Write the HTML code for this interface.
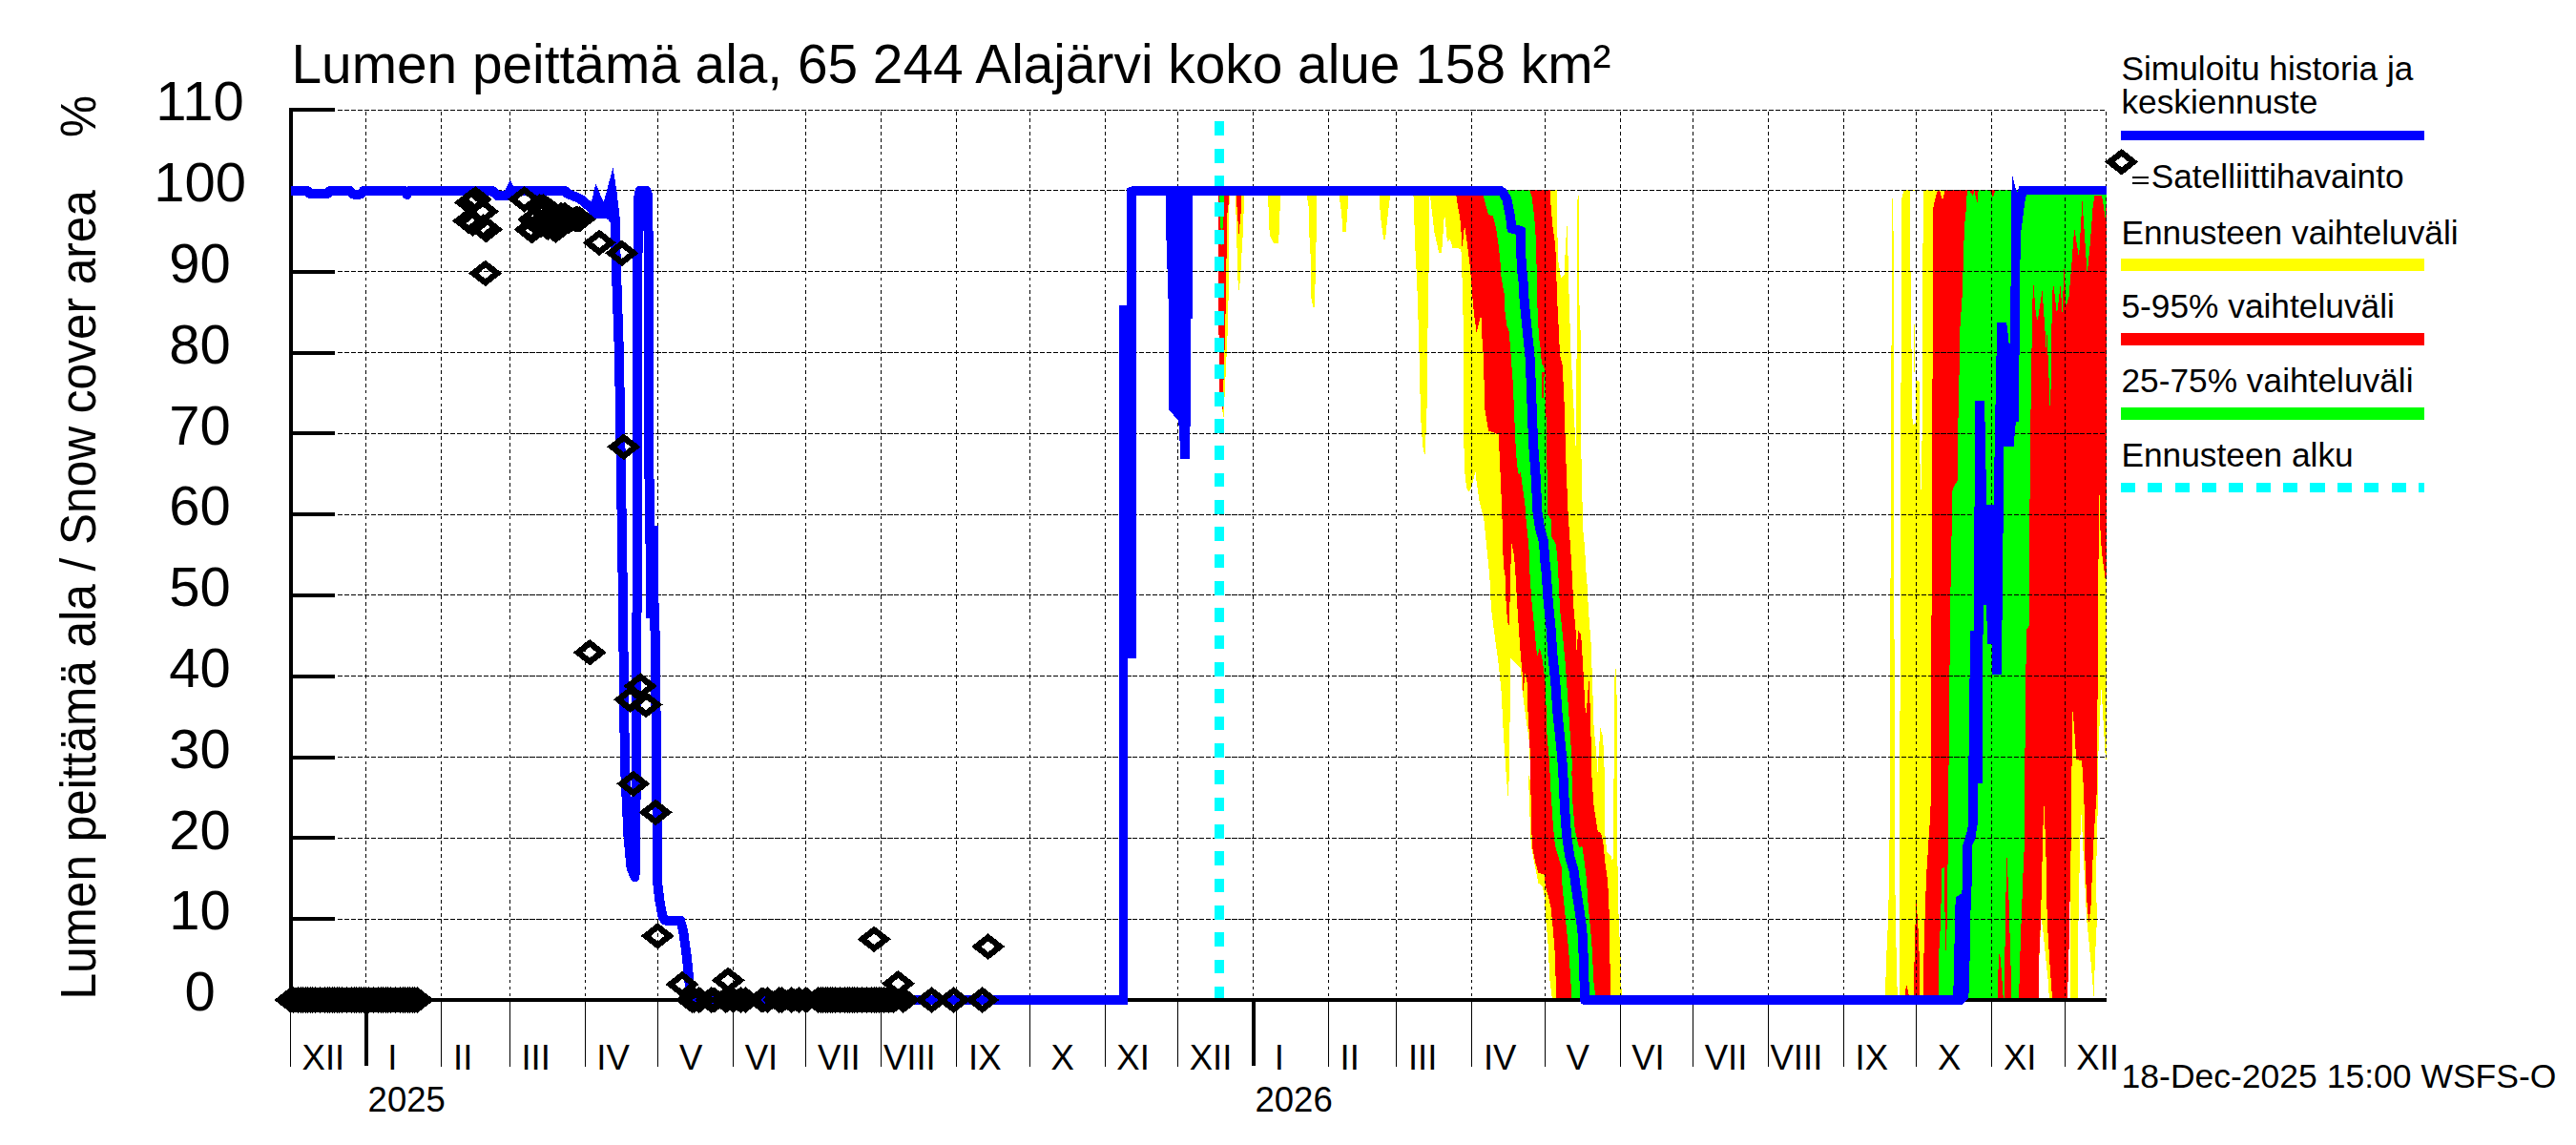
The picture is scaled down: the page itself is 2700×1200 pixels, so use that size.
<!DOCTYPE html>
<html><head><meta charset="utf-8"><title>Lumen peittämä ala</title>
<style>
html,body{margin:0;padding:0;background:#fff;}
body{width:2700px;height:1200px;overflow:hidden;}
svg{display:block;font-family:"Liberation Sans",sans-serif;}
</style></head><body>
<svg width="2700" height="1200" viewBox="0 0 2700 1200">
<rect width="2700" height="1200" fill="#ffffff"/>
<g shape-rendering="crispEdges">
<polygon points="1286.4,205.3 1289.1,205.3 1287.8,224.3 1287.8,297.4 1287.1,340.0 1282.5,437.0 1281.0,430.0 1285.5,271.7" fill="#ffff00" />
<polygon points="1276.9,205.3 1288.4,205.3 1287.8,212.1 1286.4,224.3 1285.5,271.7 1285.0,283.8 1284.4,340.0 1281.5,429.0 1278.0,420.0 1276.9,266.2" fill="#ff0000" />
<polygon points="1278.3,205.3 1283.0,205.3 1282.3,225.6 1280.3,260.8 1279.0,225.6" fill="#00ff00" />
<polygon points="1294.9,205.3 1304.0,205.3 1303.1,239.2 1301.3,268.9 1299.9,293.3 1298.6,304.8 1297.2,290.6 1296.3,250.0" fill="#ffff00" />
<polygon points="1295.9,205.3 1301.3,205.3 1300.6,222.9 1298.6,245.9 1296.8,222.9" fill="#ff0000" />
<polygon points="1329.0,205.3 1341.9,205.3 1341.2,235.1 1339.9,255.4 1335.1,255.4 1331.4,248.0 1330.4,240.5 1329.7,221.6" fill="#ffff00" />
<polygon points="1369.9,205.3 1380.0,205.3 1379.8,239.2 1378.9,285.2 1377.8,322.4 1376.4,322.4 1374.0,310.9 1373.5,266.2 1372.4,247.3 1371.7,217.5" fill="#ffff00" />
<polygon points="1403.5,205.3 1413.0,205.3 1412.7,216.1 1411.6,232.4 1410.7,242.5 1407.3,242.5 1406.9,232.4 1405.5,218.8" fill="#ffff00" />
<polygon points="1445.8,205.3 1457.0,205.3 1455.6,217.5 1454.3,228.3 1452.0,250.7 1450.2,250.7 1448.9,241.9 1446.8,225.6" fill="#ffff00" />
<polygon points="1481.3,199.2 1498.6,199.2 1497.7,276.1 1496.7,333.8 1495.7,390.0 1495.7,422.7 1493.8,476.5 1491.9,472.6 1490.4,457.3 1489.0,434.2 1488.0,390.0 1487.1,353.0 1485.2,295.3 1483.2,256.9" fill="#ffff00" />
<polygon points="1498.6,199.2 1499.6,210.8 1503.4,243.4 1508.2,264.6 1511.1,265.5 1514.0,222.3 1516.9,253.0 1519.8,251.1 1522.6,259.8 1530.3,260.7 1531.9,264.6 1532.6,295.3 1533.6,333.8 1534.2,400.2 1534.2,457.3 1535.1,493.8 1537.1,511.1 1539.9,515.9 1543.8,505.3 1546.7,493.8 1547.6,505.3 1550.5,524.5 1555.3,543.8 1558.2,572.6 1561.1,601.4 1561.1,600.0 1563.0,638.4 1566.8,667.3 1570.7,696.1 1573.6,724.9 1575.5,763.4 1577.4,792.2 1579.3,820.1 1579.3,810.0 1579.7,831.8 1580.8,835.1 1581.9,810.0 1582.2,776.8 1583.2,715.3 1583.2,690.3 1584.1,690.3 1593.8,699.9 1595.7,724.9 1599.5,753.8 1602.4,773.0 1603.4,792.2 1604.3,820.1 1601.6,810.0 1602.7,831.8 1603.8,864.6 1604.8,886.4 1608.1,903.9 1610.3,914.8 1612.5,925.7 1616.9,929.0 1619.0,941.0 1620.1,962.8 1622.3,984.7 1623.4,1006.5 1624.5,1028.3 1626.7,1045.8 1699.8,1045.8 1698.7,1006.5 1696.6,962.8 1695.5,908.3 1695.0,810.0 1694.7,734.5 1693.7,699.0 1691.8,715.3 1691.8,820.1 1691.1,810.0 1691.1,895.2 1690.0,903.9 1688.9,897.3 1684.5,893.0 1682.4,875.5 1681.9,849.3 1681.9,810.0 1681.8,811.4 1680.2,773.0 1677.4,762.4 1674.5,809.5 1672.6,782.6 1670.6,763.4 1669.7,734.5 1668.7,705.7 1667.8,676.9 1664.9,638.4 1662.9,600.0 1662.6,601.4 1661.0,572.6 1659.1,553.4 1658.1,505.3 1657.2,466.9 1657.2,390.0 1656.8,353.0 1655.3,314.5 1654.9,214.6 1654.3,199.2 1653.0,214.6 1653.0,314.5 1652.4,390.0 1652.4,441.9 1651.4,470.7 1651.4,495.7 1650.5,447.7 1649.5,428.4 1647.6,390.0 1646.6,372.2 1644.7,314.5 1643.7,276.1 1642.8,233.8 1640.8,256.9 1639.9,287.6 1636.0,291.5 1633.2,272.3 1632.2,237.7 1632.2,199.2" fill="#ffff00" />
<polygon points="1525.5,199.2 1527.4,212.7 1530.3,228.0 1531.9,247.3 1532.6,259.8 1535.1,235.7 1538.0,256.9 1540.9,279.9 1542.8,304.9 1544.7,326.1 1547.6,349.1 1552.4,329.9 1553.4,353.0 1554.7,372.2 1555.3,390.0 1556.3,428.4 1560.1,451.5 1570.7,455.3 1571.7,476.5 1573.0,505.3 1574.5,543.8 1575.5,582.2 1576.8,601.4 1577.4,600.0 1578.8,638.4 1581.3,659.6 1582.6,628.8 1583.2,600.0 1583.8,582.2 1584.5,569.7 1587.0,582.2 1589.0,610.1 1589.9,628.8 1591.8,657.7 1593.8,686.5 1595.7,705.7 1596.6,725.9 1598.6,704.7 1600.5,715.3 1601.4,744.1 1603.0,773.0 1604.3,801.8 1604.2,810.0 1604.8,853.7 1605.9,886.4 1609.2,903.9 1612.5,914.8 1619.0,917.0 1620.1,930.1 1623.4,941.0 1625.6,951.9 1627.8,973.8 1629.5,995.6 1630.4,1017.4 1631.0,1045.8 1687.8,1045.8 1687.4,995.6 1686.7,962.8 1686.3,941.0 1684.5,919.2 1682.4,903.9 1680.2,882.1 1678.0,873.3 1674.7,871.1 1670.3,842.8 1668.2,810.0 1667.8,782.6 1666.8,744.1 1665.3,709.6 1663.9,732.6 1662.0,751.8 1660.1,715.3 1659.1,696.1 1657.2,665.3 1654.3,660.5 1652.4,682.6 1651.4,657.7 1649.5,638.4 1647.6,600.0 1646.6,582.2 1645.3,563.0 1643.7,539.9 1642.2,505.3 1640.8,466.9 1639.9,428.4 1638.0,390.0 1638.0,383.7 1635.1,372.2 1634.1,353.0 1633.2,333.8 1632.2,314.5 1631.2,285.7 1630.3,256.9 1627.4,237.7 1625.5,214.6 1624.5,199.2" fill="#ff0000" />
<polygon points="1553.4,199.2 1557.2,214.6 1560.1,225.2 1564.9,226.1 1567.8,237.7 1570.7,256.9 1572.6,276.1 1573.6,291.5 1576.5,306.8 1577.4,326.1 1579.3,341.4 1581.3,345.3 1583.2,364.5 1584.1,381.8 1585.1,390.0 1587.0,428.4 1588.0,457.3 1589.9,486.1 1591.8,497.6 1593.8,494.7 1595.7,509.2 1598.6,530.3 1599.5,543.8 1601.4,563.0 1603.0,582.2 1603.4,600.0 1605.3,628.8 1608.2,657.7 1611.1,688.4 1613.9,678.8 1616.8,692.3 1619.7,715.3 1620.7,744.1 1621.6,773.0 1623.5,792.2 1624.5,810.0 1625.6,831.8 1627.8,864.6 1630.0,886.4 1633.2,897.3 1636.5,908.3 1637.6,930.1 1639.8,951.9 1642.0,973.8 1644.1,995.6 1645.7,1017.4 1647.4,1045.8 1672.5,1045.8 1670.3,1028.3 1668.8,995.6 1667.1,973.8 1664.9,951.9 1662.7,919.2 1660.5,901.7 1658.3,886.4 1655.1,888.6 1650.7,869.0 1648.5,842.8 1647.4,810.0 1648.0,801.8 1646.6,782.6 1644.7,753.8 1642.8,724.9 1640.8,696.1 1638.0,667.3 1635.1,638.4 1633.2,600.0 1632.2,582.2 1630.3,568.7 1626.4,563.0 1625.5,543.8 1622.2,539.9 1621.6,495.7 1620.7,447.7 1619.7,390.0 1617.8,383.7 1615.9,381.8 1614.9,366.4 1613.0,353.0 1612.0,333.8 1611.1,314.5 1610.7,285.7 1610.1,256.9 1609.1,237.7 1607.2,218.4 1605.3,205.0 1603.4,199.2" fill="#00ff00" />
<polygon points="1615.9,390.0 1618.7,390.0 1617.8,416.9 1616.4,416.9" fill="#ff0000" />
<polygon points="1983.1,207.9 1982.7,333.7 1982.1,428.4 1981.7,600.0 1980.8,630.7 1981.2,810.0 1980.1,923.5 1978.6,973.8 1977.0,1006.5 1975.9,1045.8 1988.8,1045.8 1987.3,984.7 1986.2,919.2 1985.8,810.0 1985.9,671.1 1985.0,669.2 1985.0,390.0 1984.4,207.9" fill="#ffff00" />
<polygon points="1995.5,199.2 1993.0,208.8 1992.7,390.0 1992.3,413.1 1991.7,600.0 1991.7,744.1 1991.1,746.0 1991.0,810.0 1991.0,1045.8 2025.5,1045.8 2025.5,810.0 2040.7,389.8 2040.7,199.2" fill="#ffff00" />
<polygon points="2001.9,200.2 2015.7,199.2 2015.1,390.0 2014.8,447.6 2013.4,518.7 2011.5,447.6 2011.5,399.6 2008.0,397.7 2008.0,443.8 2004.6,444.8 2003.8,390.0 2002.7,299.1 2001.9,237.6" fill="#ffffff" />
<polygon points="2005.5,339.5 2007.1,339.5 2007.1,389.8 2005.5,389.8" fill="#ffff00" />
<polygon points="2199.2,514.9 2207.5,514.9 2207.5,1046.0 2169.6,1045.8 2169.6,810.0 2170.4,742.2" fill="#ffff00" />
<polygon points="2031.1,199.2 2033.0,199.2 2035.9,209.8 2038.8,199.2 2207.5,200.0 2207.5,605.8 2206.5,605.8 2203.6,584.1 2201.7,562.9 2200.6,518.7 2200.2,518.7 2199.2,617.3 2198.8,715.3 2198.3,746.0 2198.0,810.0 2197.6,831.8 2194.7,875.5 2193.2,908.3 2191.4,951.9 2189.3,967.2 2187.1,941.0 2185.3,897.3 2184.5,842.8 2183.1,810.0 2181.9,796.9 2176.2,796.0 2174.2,763.3 2172.5,746.0 2171.4,809.4 2170.7,810.0 2170.7,882.1 2169.6,941.0 2168.5,995.6 2167.0,1045.8 2015.7,1045.8 2016.3,1006.5 2017.2,973.8 2019.0,919.2 2021.1,886.4 2023.3,853.7 2024.4,810.0 2024.0,646.1 2024.9,644.2 2025.3,610.0 2025.3,397.7 2026.3,395.8 2026.3,218.4 2028.2,208.8" fill="#ff0000" />
<polygon points="2181.6,851.5 2182.7,875.5 2184.9,919.2 2187.1,962.8 2191.4,1006.5 2194.7,1045.8 2177.9,1045.8 2178.3,975.9 2179.4,919.2 2180.5,875.5" fill="#ffffff" />
<polygon points="2199.1,810.0 2207.5,810.0 2207.5,1046.0 2194.7,1045.8 2195.8,1006.5 2198.0,962.8 2196.9,923.5 2198.0,875.5 2199.1,831.8" fill="#ffffff" />
<polygon points="2202.5,723.0 2204.0,746.0 2206.9,796.0 2207.5,796.0 2207.5,810.0 2199.1,810.0 2199.2,796.0 2201.1,746.0" fill="#ffffff" />
<polygon points="2142.3,839.5 2143.8,875.5 2145.2,919.2 2145.6,962.8 2148.2,1006.5 2151.0,1045.8 2136.9,1045.8 2136.9,1013.1 2139.0,962.8 2140.1,919.2 2141.2,875.5" fill="#ffff00" />
<polygon points="2139.5,962.8 2141.2,973.8 2144.5,1006.5 2146.7,1028.3 2147.8,1045.8 2136.9,1045.8 2136.9,1013.1" fill="#ffffff" />
<polygon points="2008.5,943.2 2011.3,984.7 2012.4,1045.8 2005.9,1045.8 2006.9,984.7" fill="#ff0000" />
<polygon points="1998.2,1031.6 2001.5,1045.8 1996.0,1045.8" fill="#ff0000" />
<polygon points="2061.8,199.2 2060.9,218.4 2059.0,237.6 2058.0,266.5 2057.0,304.9 2055.1,333.7 2053.8,352.9 2053.8,390.0 2053.2,395.8 2052.2,457.2 2051.8,503.4 2048.4,509.1 2046.1,514.9 2045.5,562.9 2044.9,600.0 2044.9,615.4 2044.0,615.4 2044.0,697.0 2043.0,697.0 2043.0,801.7 2042.0,801.7 2041.9,810.0 2041.9,906.1 2035.3,910.4 2034.2,962.8 2032.1,1002.1 2031.6,1045.8 2116.1,1045.8 2117.2,1006.5 2118.3,973.8 2119.4,945.4 2120.5,914.8 2122.0,882.1 2122.0,810.0 2122.4,796.0 2123.3,705.7 2124.3,659.6 2126.8,655.7 2126.8,600.0 2127.2,559.1 2128.1,457.2 2129.1,390.0 2130.0,333.7 2131.0,292.4 2133.9,329.9 2135.8,335.6 2140.6,303.9 2143.5,347.2 2144.5,364.5 2145.4,348.1 2147.3,389.8 2148.7,430.3 2150.2,390.0 2150.2,352.9 2151.2,308.7 2152.1,296.2 2156.0,329.9 2159.8,297.2 2161.4,329.9 2163.7,278.0 2165.6,321.2 2168.5,310.7 2171.4,276.1 2174.2,238.6 2179.0,270.3 2182.5,210.7 2187.7,287.6 2190.6,256.9 2193.5,218.4 2195.4,205.0 2203.1,205.0 2206.9,230.0 2207.5,218.4 2207.5,200.0" fill="#00ff00" />
<polygon points="2063.8,199.2 2067.6,205.0 2069.5,200.2 2072.4,212.7 2073.7,199.2" fill="#ff0000" />
<polygon points="2085.9,199.2 2088.7,206.9 2091.6,199.2" fill="#ff0000" />
<polygon points="2037.9,906.1 2041.2,906.1 2040.3,995.6 2039.0,995.6" fill="#ff0000" />
<polygon points="2103.4,896.2 2105.2,932.3 2106.7,984.7 2108.5,1045.8 2100.8,1045.8 2101.9,962.8" fill="#ff0000" />
<polygon points="2095.8,995.6 2098.0,1019.6 2099.7,1045.8 2093.6,1045.8 2094.3,1019.6" fill="#ff0000" />
</g>
<g stroke="#000" stroke-width="1" fill="none" shape-rendering="crispEdges">
<line x1="354" y1="963.5" x2="2207.5" y2="963.5" stroke-dasharray="5.2 1.744"/>
<line x1="354" y1="878.5" x2="2207.5" y2="878.5" stroke-dasharray="5.2 1.744"/>
<line x1="354" y1="793.5" x2="2207.5" y2="793.5" stroke-dasharray="5.2 1.744"/>
<line x1="354" y1="708.5" x2="2207.5" y2="708.5" stroke-dasharray="5.2 1.744"/>
<line x1="354" y1="623.5" x2="2207.5" y2="623.5" stroke-dasharray="5.2 1.744"/>
<line x1="354" y1="539.5" x2="2207.5" y2="539.5" stroke-dasharray="5.2 1.744"/>
<line x1="354" y1="454.5" x2="2207.5" y2="454.5" stroke-dasharray="5.2 1.744"/>
<line x1="354" y1="369.5" x2="2207.5" y2="369.5" stroke-dasharray="5.2 1.744"/>
<line x1="354" y1="284.5" x2="2207.5" y2="284.5" stroke-dasharray="5.2 1.744"/>
<line x1="354" y1="199.5" x2="2207.5" y2="199.5" stroke-dasharray="5.2 1.744"/>
<line x1="354" y1="115.5" x2="2207.5" y2="115.5" stroke-dasharray="5.2 1.744"/>
<line x1="383.5" y1="117" x2="383.5" y2="1047.9" stroke-dasharray="3.8 3.144"/>
<line x1="462.5" y1="117" x2="462.5" y2="1047.9" stroke-dasharray="3.8 3.144"/>
<line x1="534.5" y1="117" x2="534.5" y2="1047.9" stroke-dasharray="3.8 3.144"/>
<line x1="613.5" y1="117" x2="613.5" y2="1047.9" stroke-dasharray="3.8 3.144"/>
<line x1="689.5" y1="117" x2="689.5" y2="1047.9" stroke-dasharray="3.8 3.144"/>
<line x1="768.5" y1="117" x2="768.5" y2="1047.9" stroke-dasharray="3.8 3.144"/>
<line x1="844.5" y1="117" x2="844.5" y2="1047.9" stroke-dasharray="3.8 3.144"/>
<line x1="923.5" y1="117" x2="923.5" y2="1047.9" stroke-dasharray="3.8 3.144"/>
<line x1="1002.5" y1="117" x2="1002.5" y2="1047.9" stroke-dasharray="3.8 3.144"/>
<line x1="1079.5" y1="117" x2="1079.5" y2="1047.9" stroke-dasharray="3.8 3.144"/>
<line x1="1158.5" y1="117" x2="1158.5" y2="1047.9" stroke-dasharray="3.8 3.144"/>
<line x1="1234.5" y1="117" x2="1234.5" y2="1047.9" stroke-dasharray="3.8 3.144"/>
<line x1="1313.5" y1="117" x2="1313.5" y2="1047.9" stroke-dasharray="3.8 3.144"/>
<line x1="1392.5" y1="117" x2="1392.5" y2="1047.9" stroke-dasharray="3.8 3.144"/>
<line x1="1463.5" y1="117" x2="1463.5" y2="1047.9" stroke-dasharray="3.8 3.144"/>
<line x1="1542.5" y1="117" x2="1542.5" y2="1047.9" stroke-dasharray="3.8 3.144"/>
<line x1="1619.5" y1="117" x2="1619.5" y2="1047.9" stroke-dasharray="3.8 3.144"/>
<line x1="1698.5" y1="117" x2="1698.5" y2="1047.9" stroke-dasharray="3.8 3.144"/>
<line x1="1774.5" y1="117" x2="1774.5" y2="1047.9" stroke-dasharray="3.8 3.144"/>
<line x1="1853.5" y1="117" x2="1853.5" y2="1047.9" stroke-dasharray="3.8 3.144"/>
<line x1="1932.5" y1="117" x2="1932.5" y2="1047.9" stroke-dasharray="3.8 3.144"/>
<line x1="2008.5" y1="117" x2="2008.5" y2="1047.9" stroke-dasharray="3.8 3.144"/>
<line x1="2087.5" y1="117" x2="2087.5" y2="1047.9" stroke-dasharray="3.8 3.144"/>
<line x1="2164.5" y1="117" x2="2164.5" y2="1047.9" stroke-dasharray="3.8 3.144"/>
<line x1="2207.5" y1="117" x2="2207.5" y2="1047.9" stroke-dasharray="3.8 3.144"/>
</g>
<line x1="1278.0" y1="127.3" x2="1278.0" y2="1047.9" stroke="#00ffff" stroke-width="10" stroke-dasharray="14.9 13.43" shape-rendering="crispEdges"/>
<g stroke="#000" fill="none" shape-rendering="crispEdges">
<line x1="305" y1="113.1" x2="305" y2="1049.9" stroke-width="4"/>
<line x1="303" y1="1048" x2="2207.5" y2="1048" stroke-width="4"/>
<line x1="303" y1="963" x2="350.5" y2="963" stroke-width="4"/>
<line x1="303" y1="878" x2="350.5" y2="878" stroke-width="4"/>
<line x1="303" y1="794" x2="350.5" y2="794" stroke-width="4"/>
<line x1="303" y1="709" x2="350.5" y2="709" stroke-width="4"/>
<line x1="303" y1="624" x2="350.5" y2="624" stroke-width="4"/>
<line x1="303" y1="539" x2="350.5" y2="539" stroke-width="4"/>
<line x1="303" y1="454" x2="350.5" y2="454" stroke-width="4"/>
<line x1="303" y1="370" x2="350.5" y2="370" stroke-width="4"/>
<line x1="303" y1="285" x2="350.5" y2="285" stroke-width="4"/>
<line x1="303" y1="200" x2="350.5" y2="200" stroke-width="4"/>
<line x1="303" y1="115" x2="350.5" y2="115" stroke-width="4"/>
<line x1="384.0" y1="1047.9" x2="384.0" y2="1117" stroke-width="4"/>
<line x1="462.5" y1="1047.9" x2="462.5" y2="1117.5" stroke-width="1"/>
<line x1="534.5" y1="1047.9" x2="534.5" y2="1117.5" stroke-width="1"/>
<line x1="613.5" y1="1047.9" x2="613.5" y2="1117.5" stroke-width="1"/>
<line x1="689.5" y1="1047.9" x2="689.5" y2="1117.5" stroke-width="1"/>
<line x1="768.5" y1="1047.9" x2="768.5" y2="1117.5" stroke-width="1"/>
<line x1="844.5" y1="1047.9" x2="844.5" y2="1117.5" stroke-width="1"/>
<line x1="923.5" y1="1047.9" x2="923.5" y2="1117.5" stroke-width="1"/>
<line x1="1002.5" y1="1047.9" x2="1002.5" y2="1117.5" stroke-width="1"/>
<line x1="1079.5" y1="1047.9" x2="1079.5" y2="1117.5" stroke-width="1"/>
<line x1="1158.5" y1="1047.9" x2="1158.5" y2="1117.5" stroke-width="1"/>
<line x1="1234.5" y1="1047.9" x2="1234.5" y2="1117.5" stroke-width="1"/>
<line x1="1314.0" y1="1047.9" x2="1314.0" y2="1117" stroke-width="4"/>
<line x1="1392.5" y1="1047.9" x2="1392.5" y2="1117.5" stroke-width="1"/>
<line x1="1463.5" y1="1047.9" x2="1463.5" y2="1117.5" stroke-width="1"/>
<line x1="1542.5" y1="1047.9" x2="1542.5" y2="1117.5" stroke-width="1"/>
<line x1="1619.5" y1="1047.9" x2="1619.5" y2="1117.5" stroke-width="1"/>
<line x1="1698.5" y1="1047.9" x2="1698.5" y2="1117.5" stroke-width="1"/>
<line x1="1774.5" y1="1047.9" x2="1774.5" y2="1117.5" stroke-width="1"/>
<line x1="1853.5" y1="1047.9" x2="1853.5" y2="1117.5" stroke-width="1"/>
<line x1="1932.5" y1="1047.9" x2="1932.5" y2="1117.5" stroke-width="1"/>
<line x1="2008.5" y1="1047.9" x2="2008.5" y2="1117.5" stroke-width="1"/>
<line x1="2087.5" y1="1047.9" x2="2087.5" y2="1117.5" stroke-width="1"/>
<line x1="2164.5" y1="1047.9" x2="2164.5" y2="1117.5" stroke-width="1"/>
<line x1="304.5" y1="1047.9" x2="304.5" y2="1117.5" stroke-width="1"/>
</g>
<g shape-rendering="crispEdges">
<polygon points="528.4,201.0 534.6,188.7 540.0,199.0" fill="#0000ff" />
<polygon points="615.0,212.0 619.6,213.5 624.3,192.2 632.2,211.0 633.0,211.0 642.4,175.7 646.3,199.3 648.7,219.7 650.0,232.0 640.0,232.0 630.0,225.0 618.0,220.0" fill="#0000ff" />
<polyline points="305.0,200.0 322.0,200.0 325.0,203.0 343.0,203.0 346.0,200.0 367.0,200.0 370.0,203.5 378.0,203.5 381.0,200.0 424.0,200.0 426.5,204.0 429.0,200.0 516.0,200.0 521.5,205.3 531.0,205.3 536.0,202.0 540.0,200.0 592.0,200.0 595.2,203.2 604.6,206.7 611.0,210.3 617.2,216.1 620.4,219.3 625.0,224.2 640.0,224.2 644.6,232.0 646.0,284.5 648.9,369.0 649.3,392.0 652.4,590.0 654.9,800.0 656.7,839.0 658.6,878.0 661.5,909.0 665.5,919.4 667.0,800.0 667.7,590.0 668.1,400.0 668.7,210.0 670.5,200.0 677.5,200.0 679.3,205.0 680.3,380.0 680.6,556.0 686.3,644.0 688.3,810.0 689.0,924.0 691.6,945.0 694.5,961.0 697.0,964.5 713.0,964.5 716.0,975.0 720.0,1004.0 722.5,1030.0 724.5,1048.0 1177.0,1048.0" fill="none" stroke="#0000ff" stroke-width="10" stroke-linejoin="round"/>
<polygon points="677.0,551.0 689.9,551.0 689.9,648.0 677.0,648.0" fill="#0000ff" />
<polygon points="1172.5,1053.0 1172.5,320.0 1181.3,320.0 1181.3,197.0 1187.6,195.0 1190.5,195.0 1190.5,690.0 1181.5,690.0 1181.5,1053.0" fill="#0000ff" />
<polygon points="1222.2,198.8 1222.2,242.0 1225.1,331.4 1225.1,429.4 1235.2,440.9 1236.6,463.9 1237.2,481.2 1246.7,481.2 1247.6,443.8 1247.6,334.3 1249.6,334.3 1249.6,198.8" fill="#0000ff" />
<polyline points="1186.0,200.0 1572.6,200.0 1575.5,202.0 1579.3,208.8 1583.2,228.0 1584.5,239.6 1594.1,241.9 1594.7,283.8 1596.1,287.6 1597.6,314.5 1599.5,333.8 1601.4,353.0 1603.4,372.2 1604.3,390.0 1605.7,428.4 1607.2,466.9 1610.1,505.3 1611.1,534.1 1613.9,553.4 1617.8,566.8 1619.7,591.8 1620.7,600.0 1622.6,628.8 1625.5,657.7 1627.4,686.5 1630.3,715.3 1632.2,744.1 1635.1,773.0 1637.0,792.2 1638.3,810.0 1639.8,842.8 1642.0,875.5 1645.2,897.3 1649.6,912.6 1651.8,930.1 1655.1,951.9 1658.3,973.8 1659.4,995.6 1660.5,1028.3 1661.0,1048.0 2057.2,1048.0" fill="none" stroke="#0000ff" stroke-width="10" stroke-linejoin="round"/>
<polygon points="2047.3,1052.8 2047.3,1042.5 2048.4,995.6 2049.1,954.1 2050.0,939.9 2056.1,936.6 2057.2,927.9 2057.2,886.4 2059.3,879.9 2062.2,869.0 2063.1,862.4 2063.1,810.0 2063.2,792.1 2064.1,792.1 2064.1,710.5 2065.3,710.5 2065.3,660.5 2069.1,660.5 2069.1,600.0 2069.1,531.2 2069.9,531.2 2069.9,419.8 2080.1,419.8 2080.1,441.9 2080.7,441.9 2080.7,491.8 2082.0,491.8 2082.0,529.3 2090.3,529.3 2090.3,479.3 2091.2,479.3 2091.2,423.6 2092.2,423.6 2092.2,390.0 2092.6,369.3 2093.0,337.9 2103.1,337.9 2104.5,349.1 2106.4,367.3 2107.6,295.3 2107.9,208.8 2109.5,184.8 2112.8,198.3 2114.7,201.1 2116.6,195.0 2207.5,195.0 2207.5,204.0 2124.3,204.0 2123.3,205.9 2121.4,218.4 2119.5,233.8 2117.9,245.3 2117.2,295.3 2116.6,369.3 2116.0,390.0 2116.0,441.9 2112.8,441.9 2112.8,445.7 2111.8,445.7 2111.8,457.2 2110.8,457.2 2110.8,467.8 2100.3,467.8 2100.3,559.1 2099.3,559.1 2098.9,600.0 2098.9,650.0 2098.0,650.0 2098.0,706.6 2087.8,706.6 2087.8,674.9 2083.0,674.9 2083.0,650.9 2082.0,650.9 2082.0,633.6 2079.1,633.6 2079.1,665.3 2078.2,665.3 2077.6,710.5 2077.9,810.0 2077.9,820.5 2073.1,820.5 2073.1,862.4 2071.8,869.0 2070.3,879.9 2067.0,886.4 2066.6,927.9 2065.9,936.6 2065.9,939.9 2065.5,954.1 2064.8,995.6 2063.7,1039.3 2062.6,1046.9 2057.2,1052.8" fill="#0000ff" />
</g>
<defs><path id="d" d="M-17.6,0L0,-13.8L17.6,0L0,13.8ZM-7.1,0L0,5.65L7.1,0L0,-5.65Z" fill="#000" fill-rule="evenodd"/></defs>
<g shape-rendering="crispEdges">
<use href="#d" x="305.0" y="1048.0"/>
<use href="#d" x="307.5" y="1048.0"/>
<use href="#d" x="310.1" y="1048.0"/>
<use href="#d" x="312.6" y="1048.0"/>
<use href="#d" x="315.2" y="1048.0"/>
<use href="#d" x="317.7" y="1048.0"/>
<use href="#d" x="320.3" y="1048.0"/>
<use href="#d" x="322.8" y="1048.0"/>
<use href="#d" x="325.4" y="1048.0"/>
<use href="#d" x="327.9" y="1048.0"/>
<use href="#d" x="330.5" y="1048.0"/>
<use href="#d" x="333.0" y="1048.0"/>
<use href="#d" x="335.6" y="1048.0"/>
<use href="#d" x="338.1" y="1048.0"/>
<use href="#d" x="340.7" y="1048.0"/>
<use href="#d" x="343.2" y="1048.0"/>
<use href="#d" x="345.7" y="1048.0"/>
<use href="#d" x="348.3" y="1048.0"/>
<use href="#d" x="350.8" y="1048.0"/>
<use href="#d" x="353.4" y="1048.0"/>
<use href="#d" x="355.9" y="1048.0"/>
<use href="#d" x="358.5" y="1048.0"/>
<use href="#d" x="361.0" y="1048.0"/>
<use href="#d" x="363.6" y="1048.0"/>
<use href="#d" x="366.1" y="1048.0"/>
<use href="#d" x="368.7" y="1048.0"/>
<use href="#d" x="371.2" y="1048.0"/>
<use href="#d" x="373.8" y="1048.0"/>
<use href="#d" x="376.3" y="1048.0"/>
<use href="#d" x="378.9" y="1048.0"/>
<use href="#d" x="381.4" y="1048.0"/>
<use href="#d" x="384.0" y="1048.0"/>
<use href="#d" x="386.5" y="1048.0"/>
<use href="#d" x="389.0" y="1048.0"/>
<use href="#d" x="391.6" y="1048.0"/>
<use href="#d" x="394.1" y="1048.0"/>
<use href="#d" x="396.7" y="1048.0"/>
<use href="#d" x="399.2" y="1048.0"/>
<use href="#d" x="401.8" y="1048.0"/>
<use href="#d" x="404.3" y="1048.0"/>
<use href="#d" x="406.9" y="1048.0"/>
<use href="#d" x="409.4" y="1048.0"/>
<use href="#d" x="412.0" y="1048.0"/>
<use href="#d" x="414.5" y="1048.0"/>
<use href="#d" x="417.1" y="1048.0"/>
<use href="#d" x="419.6" y="1048.0"/>
<use href="#d" x="422.2" y="1048.0"/>
<use href="#d" x="424.7" y="1048.0"/>
<use href="#d" x="427.2" y="1048.0"/>
<use href="#d" x="429.8" y="1048.0"/>
<use href="#d" x="432.3" y="1048.0"/>
<use href="#d" x="434.9" y="1048.0"/>
<use href="#d" x="437.4" y="1048.0"/>
<use href="#d" x="725.2" y="1048.0"/>
<use href="#d" x="727.8" y="1048.0"/>
<use href="#d" x="732.9" y="1048.0"/>
<use href="#d" x="745.6" y="1048.0"/>
<use href="#d" x="748.1" y="1048.0"/>
<use href="#d" x="760.9" y="1048.0"/>
<use href="#d" x="768.5" y="1048.0"/>
<use href="#d" x="776.2" y="1048.0"/>
<use href="#d" x="781.3" y="1048.0"/>
<use href="#d" x="799.1" y="1048.0"/>
<use href="#d" x="804.2" y="1048.0"/>
<use href="#d" x="816.9" y="1048.0"/>
<use href="#d" x="819.5" y="1048.0"/>
<use href="#d" x="829.6" y="1048.0"/>
<use href="#d" x="837.3" y="1048.0"/>
<use href="#d" x="844.9" y="1048.0"/>
<use href="#d" x="857.7" y="1048.0"/>
<use href="#d" x="860.2" y="1048.0"/>
<use href="#d" x="862.7" y="1048.0"/>
<use href="#d" x="865.3" y="1048.0"/>
<use href="#d" x="867.8" y="1048.0"/>
<use href="#d" x="870.4" y="1048.0"/>
<use href="#d" x="872.9" y="1048.0"/>
<use href="#d" x="875.5" y="1048.0"/>
<use href="#d" x="878.0" y="1048.0"/>
<use href="#d" x="880.6" y="1048.0"/>
<use href="#d" x="883.1" y="1048.0"/>
<use href="#d" x="885.7" y="1048.0"/>
<use href="#d" x="888.2" y="1048.0"/>
<use href="#d" x="890.8" y="1048.0"/>
<use href="#d" x="893.3" y="1048.0"/>
<use href="#d" x="895.9" y="1048.0"/>
<use href="#d" x="898.4" y="1048.0"/>
<use href="#d" x="901.0" y="1048.0"/>
<use href="#d" x="903.5" y="1048.0"/>
<use href="#d" x="906.0" y="1048.0"/>
<use href="#d" x="908.6" y="1048.0"/>
<use href="#d" x="911.1" y="1048.0"/>
<use href="#d" x="913.7" y="1048.0"/>
<use href="#d" x="916.2" y="1048.0"/>
<use href="#d" x="918.8" y="1048.0"/>
<use href="#d" x="921.3" y="1048.0"/>
<use href="#d" x="923.9" y="1048.0"/>
<use href="#d" x="926.4" y="1048.0"/>
<use href="#d" x="929.0" y="1048.0"/>
<use href="#d" x="931.5" y="1048.0"/>
<use href="#d" x="934.1" y="1048.0"/>
<use href="#d" x="936.6" y="1048.0"/>
<use href="#d" x="946.8" y="1048.0"/>
<use href="#d" x="976.5" y="1048.0"/>
<use href="#d" x="999.5" y="1048.0"/>
<use href="#d" x="1029.6" y="1048.0"/>
<use href="#d" x="493.5" y="212.3"/>
<use href="#d" x="498.4" y="208.9"/>
<use href="#d" x="505.5" y="221.6"/>
<use href="#d" x="491.5" y="231.5"/>
<use href="#d" x="495.8" y="234.0"/>
<use href="#d" x="506.5" y="238.0"/>
<use href="#d" x="509.5" y="240.5"/>
<use href="#d" x="508.7" y="286.4"/>
<use href="#d" x="549.6" y="208.9"/>
<use href="#d" x="565.7" y="216.8"/>
<use href="#d" x="569.4" y="216.8"/>
<use href="#d" x="574.3" y="219.6"/>
<use href="#d" x="559.6" y="230.0"/>
<use href="#d" x="556.5" y="240.3"/>
<use href="#d" x="557.6" y="241.7"/>
<use href="#d" x="574.3" y="238.3"/>
<use href="#d" x="582.4" y="241.1"/>
<use href="#d" x="588.0" y="225.5"/>
<use href="#d" x="591.7" y="225.5"/>
<use href="#d" x="603.5" y="229.7"/>
<use href="#d" x="607.3" y="229.7"/>
<use href="#d" x="605.3" y="229.6"/>
<use href="#d" x="580.0" y="230.0"/>
<use href="#d" x="595.0" y="232.0"/>
<use href="#d" x="570.0" y="232.0"/>
<use href="#d" x="585.0" y="235.0"/>
<use href="#d" x="577.0" y="226.0"/>
<use href="#d" x="598.0" y="230.0"/>
<use href="#d" x="566.0" y="236.0"/>
<use href="#d" x="628.2" y="254.3"/>
<use href="#d" x="651.8" y="265.3"/>
<use href="#d" x="653.8" y="468.3"/>
<use href="#d" x="618.2" y="683.8"/>
<use href="#d" x="671.2" y="719.0"/>
<use href="#d" x="660.5" y="733.2"/>
<use href="#d" x="677.0" y="738.5"/>
<use href="#d" x="663.8" y="821.4"/>
<use href="#d" x="687.1" y="851.4"/>
<use href="#d" x="689.3" y="980.9"/>
<use href="#d" x="715.0" y="1031.7"/>
<use href="#d" x="763.2" y="1027.4"/>
<use href="#d" x="916.2" y="984.3"/>
<use href="#d" x="941.4" y="1030.8"/>
<use href="#d" x="1035.7" y="992.1"/>
</g>
<g fill="#000">
<text x="305.5" y="86.8" font-size="56.8">Lumen peittämä ala, 65 244 Alajärvi koko alue 158 km²</text>
<text x="209.6" y="1059.2" font-size="58" text-anchor="middle">0</text>
<text x="209.6" y="974.4" font-size="58" text-anchor="middle">10</text>
<text x="209.6" y="889.6" font-size="58" text-anchor="middle">20</text>
<text x="209.6" y="804.8" font-size="58" text-anchor="middle">30</text>
<text x="209.6" y="720.0" font-size="58" text-anchor="middle">40</text>
<text x="209.6" y="635.2" font-size="58" text-anchor="middle">50</text>
<text x="209.6" y="550.4" font-size="58" text-anchor="middle">60</text>
<text x="209.6" y="465.6" font-size="58" text-anchor="middle">70</text>
<text x="209.6" y="380.8" font-size="58" text-anchor="middle">80</text>
<text x="209.6" y="296.0" font-size="58" text-anchor="middle">90</text>
<text x="209.6" y="211.2" font-size="58" text-anchor="middle">100</text>
<text x="209.6" y="126.4" font-size="58" text-anchor="middle">110</text>
<text transform="translate(99.5,1047.6) rotate(-90) scale(0.9644,1)" font-size="51.4" xml:space="preserve">Lumen peittämä ala / Snow cover area    %</text>
<text x="316.6" y="1120.8" font-size="36.5">XII</text>
<text x="406.3" y="1120.8" font-size="36.5">I</text>
<text x="475.1" y="1120.8" font-size="36.5">II</text>
<text x="546.4" y="1120.8" font-size="36.5">III</text>
<text x="625.3" y="1120.8" font-size="36.5">IV</text>
<text x="711.9" y="1120.8" font-size="36.5">V</text>
<text x="780.7" y="1120.8" font-size="36.5">VI</text>
<text x="857.1" y="1120.8" font-size="36.5">VII</text>
<text x="925.9" y="1120.8" font-size="36.5">VIII</text>
<text x="1015.0" y="1120.8" font-size="36.5">IX</text>
<text x="1101.5" y="1120.8" font-size="36.5">X</text>
<text x="1170.3" y="1120.8" font-size="36.5">XI</text>
<text x="1246.7" y="1120.8" font-size="36.5">XII</text>
<text x="1335.8" y="1120.8" font-size="36.5">I</text>
<text x="1404.6" y="1120.8" font-size="36.5">II</text>
<text x="1475.9" y="1120.8" font-size="36.5">III</text>
<text x="1554.9" y="1120.8" font-size="36.5">IV</text>
<text x="1641.4" y="1120.8" font-size="36.5">V</text>
<text x="1710.2" y="1120.8" font-size="36.5">VI</text>
<text x="1786.7" y="1120.8" font-size="36.5">VII</text>
<text x="1855.5" y="1120.8" font-size="36.5">VIII</text>
<text x="1944.6" y="1120.8" font-size="36.5">IX</text>
<text x="2031.1" y="1120.8" font-size="36.5">X</text>
<text x="2099.9" y="1120.8" font-size="36.5">XI</text>
<text x="2176.3" y="1120.8" font-size="36.5">XII</text>
<text x="385.6" y="1165.2" font-size="36.5">2025</text>
<text x="1315.5" y="1165.2" font-size="36.5">2026</text>
<text x="2223.4" y="84.3" font-size="35.3">Simuloitu historia ja</text>
<text x="2223.4" y="118.6" font-size="35.3">keskiennuste</text>
<text x="2223.4" y="256.0" font-size="35.3">Ennusteen vaihteluväli</text>
<text x="2223.4" y="333.1" font-size="35.3">5-95% vaihteluväli</text>
<text x="2223.4" y="411.0" font-size="35.3">25-75% vaihteluväli</text>
<text x="2223.4" y="488.9" font-size="35.3">Ennusteen alku</text>
<text x="2254.7" y="197.2" font-size="35.3">Satelliittihavainto</text>
<text x="2223.6" y="1139.9" font-size="35.5">18-Dec-2025 15:00 WSFS-O</text>
</g>
<g shape-rendering="crispEdges">
<rect x="2222.9" y="137" width="318.1" height="10" fill="#0000ff"/>
<rect x="2222.9" y="271" width="318.1" height="13" fill="#ffff00"/>
<rect x="2222.9" y="349" width="318.1" height="13" fill="#ff0000"/>
<rect x="2222.9" y="427" width="318.1" height="13" fill="#00ff00"/>
<line x1="2222.9" y1="511" x2="2541" y2="511" stroke="#00ffff" stroke-width="10" stroke-dasharray="15.1 13.26"/>
<rect x="2235" y="185" width="17" height="2" fill="#000"/><rect x="2235" y="191.4" width="17" height="2" fill="#000"/>
<use href="#d" x="2223.7" y="169.7"/>
</g>
</svg></body></html>
